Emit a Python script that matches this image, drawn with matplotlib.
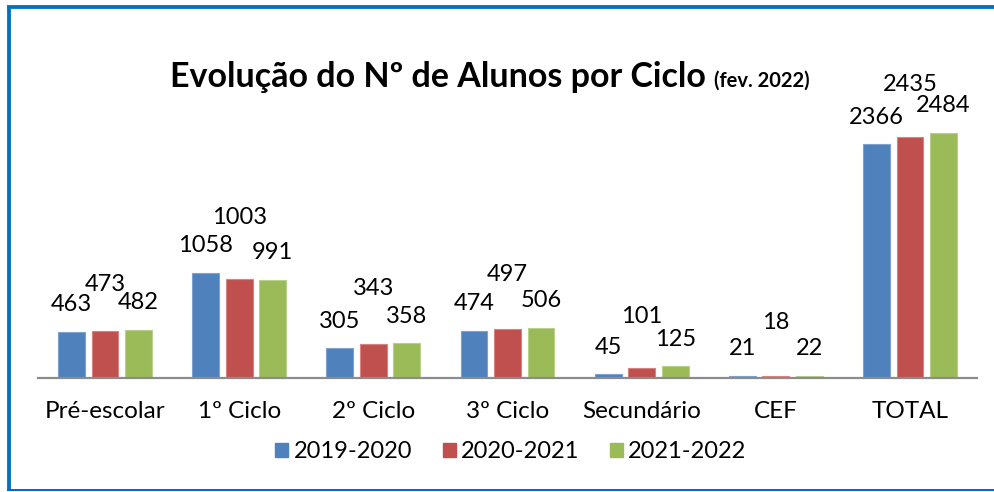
import matplotlib
matplotlib.use("Agg")
import matplotlib.pyplot as plt
from matplotlib.patches import Patch
from matplotlib.lines import Line2D

plt.rcParams['font.family'] = ['Lato', 'DejaVu Sans']

categories = ["Pré-escolar", "1º Ciclo", "2º Ciclo", "3º Ciclo", "Secundário", "CEF", "TOTAL"]
series_names = ["2019-2020", "2020-2021", "2021-2022"]
v2019 = [463, 1058, 305, 474, 45, 21, 2366]
v2020 = [473, 1003, 343, 497, 101, 18, 2435]
v2021 = [482, 991, 358, 506, 125, 22, 2484]
title_main = "Evolução do Nº de Alunos por Ciclo"
title_sub = "(fev. 2022)"

colors = ["#4F81BD", "#C0504D", "#9BBB59"]
edges = ["#7FA1CF", "#D98280", "#B8D08A"]
# label offsets above bar top (pixels), the middle series staggered higher
outer_off = [28, 28, 26, 28, 26, 27, 27]
middle_off = [47, 61, 56, 54, 52, 54, 53]

W, H = 995, 492
fig = plt.figure(figsize=(W / 100, H / 100), dpi=100)
fig.patch.set_facecolor("white")

px_per_unit = 0.0988
ymax = 3000
ax = fig.add_axes([38 / W, 114 / H, 939 / W, ymax * px_per_unit / H])
ax.set_xlim(-0.5, len(categories) - 0.5)
ax.set_ylim(0, ymax)
for s in ["left", "right", "top"]:
    ax.spines[s].set_visible(False)
ax.spines["bottom"].set_color("#8C8C8C")
ax.spines["bottom"].set_linewidth(1.6)
ax.set_yticks([])

pt = 72 / 100.0
bw = 0.20
step = 0.25
allv = [v2019, v2020, v2021]
for k, vals in enumerate(allv):
    xs = [i + (k - 1) * step for i in range(len(categories))]
    ax.bar(xs, vals, width=bw, color=colors[k], edgecolor=edges[k], linewidth=0.8, zorder=2)
    for i, (x, v) in enumerate(zip(xs, vals)):
        off = middle_off[i] if k == 1 else outer_off[i]
        ax.annotate(str(v), (x, v), xytext=(0, off * pt), textcoords="offset points",
                    ha="center", va="center", fontsize=17, color="black")

ax.set_xticks(range(len(categories)))
ax.set_xticklabels(categories, fontsize=17.5)
ax.tick_params(axis="x", length=0, pad=23 * pt)

# title
fig.text(706 / W, 1 - 87 / H, title_main, ha="right", va="baseline",
         fontsize=24.5, fontweight="bold")
fig.text(714 / W, 1 - 87 / H, title_sub, ha="left", va="baseline",
         fontsize=14.5, fontweight="bold")

# legend
handles = [Patch(facecolor=c, edgecolor=c) for c in colors]
fig.legend(handles, series_names, loc="center", bbox_to_anchor=(511 / W, 1 - 452 / H),
           ncol=3, frameon=False, fontsize=17, handlelength=0.55, handleheight=0.55,
           handletextpad=0.22, columnspacing=1.3)

# frame
fc = "#0070C0"
fig.add_artist(Line2D([8.5 / W, 8.5 / W], [1 - 7 / H, 1 - 490 / H], color=fc, lw=3.8 * pt,
                      transform=fig.transFigure, solid_capstyle="butt"))
fig.add_artist(Line2D([6.6 / W, 1.0], [1 - 7 / H, 1 - 7 / H], color=fc, lw=3.8 * pt,
                      transform=fig.transFigure, solid_capstyle="butt"))
fig.add_artist(Line2D([6.6 / W, 1.0], [1 - 490 / H, 1 - 490 / H], color=fc, lw=2.0 * pt,
                      transform=fig.transFigure, solid_capstyle="butt"))

fig.savefig("out.png", dpi=100)
